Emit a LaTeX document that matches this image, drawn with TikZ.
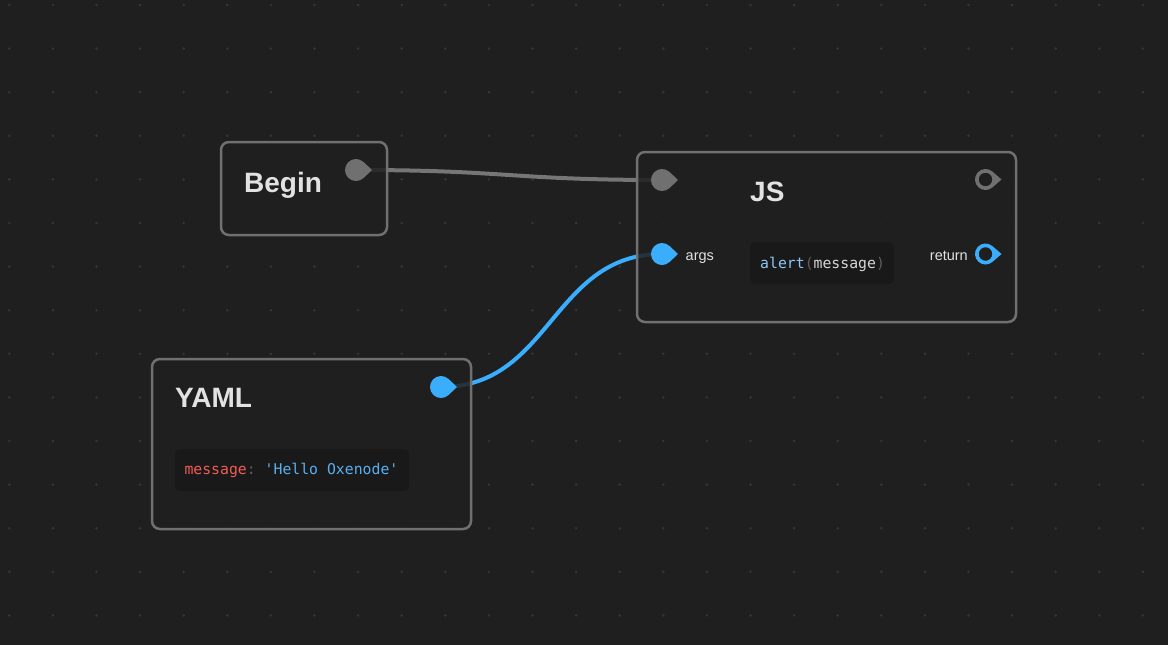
\documentclass[tikz,border=0pt]{standalone}
\usepackage{fontspec}
\setmainfont{Liberation Sans}
\setmonofont{DejaVu Sans Mono}
\definecolor{canvas}{HTML}{1F1F1F}
\definecolor{griddot}{HTML}{363636}
\definecolor{frame}{HTML}{707070}
\definecolor{wire}{HTML}{767676}
\definecolor{flow}{HTML}{3AAEFC}
\definecolor{titletext}{HTML}{E2E2E2}
\definecolor{codebg}{HTML}{191919}
\definecolor{codekey}{HTML}{F25C55}
\definecolor{codestr}{HTML}{58AFF0}
\definecolor{codefn}{HTML}{8EC6F6}
\definecolor{codeid}{HTML}{D6D6D6}
\definecolor{codepunct}{HTML}{5E5E5E}
\begin{document}
\begin{tikzpicture}[x=1pt,y=-1pt,
	nodebox/.style={draw=frame, line width=2.5pt, rounded corners=8pt, fill=canvas, fill opacity=0.85, inner sep=0},
	title/.style={anchor=base west, inner sep=0, text=titletext, font=\fontsize{28}{34}\selectfont\bfseries},
	portlabel/.style={inner sep=0, text=titletext, font=\fontsize{14.5}{17}\selectfont},
	codebox/.style={fill=codebg, rounded corners=5pt, inner sep=0},
	code/.style={anchor=base west, inner sep=0, font=\fontsize{14.8}{18}\ttfamily},
	link/.style={line width=4pt},
	fillport/.pic={\fill[#1] (46.6:11pt) arc[start angle=46.6, end angle=313.4, radius=11pt] -- (16pt,0pt) -- cycle;},
	ringport/.pic={\fill[#1, even odd rule] (49:10.5pt) arc[start angle=49, end angle=311, radius=10.5pt] -- (16pt,0pt) -- cycle (0,0) circle[radius=6.8pt];}]
	% --- Parameters ---
	\def\pagew{1168}   % canvas width
	\def\pageh{645}    % canvas height
	\def\dotgap{43.6}  % spacing of the dot grid
	% --- Canvas and dot grid ---
	\fill[canvas] (0,0) rectangle (\pagew,\pageh);
	\useasboundingbox (0,0) rectangle (\pagew,\pageh);
	\foreach \i in {0,...,26}
		\foreach \j in {0,...,14}
			\fill[griddot] ({9.3+\dotgap*\i},{5+\dotgap*\j}) circle[radius=1.4pt];
	% --- Port positions ---
	\coordinate (begin-out) at (356,170);
	\coordinate (js-in) at (662,180);
	\coordinate (js-next) at (985.5,179.5);
	\coordinate (js-args) at (662,254);
	\coordinate (js-return) at (985.5,254);
	\coordinate (yaml-out) at (441,387);
	% --- Links (behind the nodes) ---
	\draw[link, wire] (begin-out) .. controls +(150,0) and +(-150,0) .. (js-in);
	\draw[link, flow] (yaml-out) .. controls +(110,0) and +(-110,0) .. (js-args);
	% --- Node boxes ---
	\node[nodebox, minimum width=166pt, minimum height=93pt] (begin) at (304,188.5) {};
	\node[nodebox, minimum width=379pt, minimum height=170pt] (js) at (826.5,237) {};
	\node[nodebox, minimum width=319pt, minimum height=170pt] (yaml) at (311.5,444) {};
	% Titles
	\node[title] (begin-title) at (244,192) {Begin};
	\node[title] (js-title) at (750,201) {JS};
	\node[title] (yaml-title) at (175,407) {YAML};
	% --- Code fields ---
	\node[codebox, minimum width=144pt, minimum height=42pt] (js-code) at (822,263) {};
	\node[code] (js-code-text) at (760,268) {\textcolor{codefn}{alert}\textcolor{codepunct}{(}\textcolor{codeid}{message}\textcolor{codepunct}{)}};
	\node[codebox, minimum width=234pt, minimum height=42pt] (yaml-code) at (292,470) {};
	\node[code] (yaml-code-text) at (184.3,474) {\textcolor{codekey}{message}\textcolor{codepunct}{:} \textcolor{codestr}{'Hello Oxenode'}};
	% --- Port labels ---
	\node[portlabel, anchor=base west] (args-label) at (685.5,260) {args};
	\node[portlabel, anchor=base east] (return-label) at (968,260) {return};
	% --- Ports ---
	\pic at (begin-out) {fillport=frame};
	\pic at (js-in) {fillport=frame};
	\pic at (js-next) {ringport=frame};
	\pic at (js-args) {fillport=flow};
	\pic at (js-return) {ringport=flow};
	\pic at (yaml-out) {fillport=flow};
\end{tikzpicture}
\end{document}
